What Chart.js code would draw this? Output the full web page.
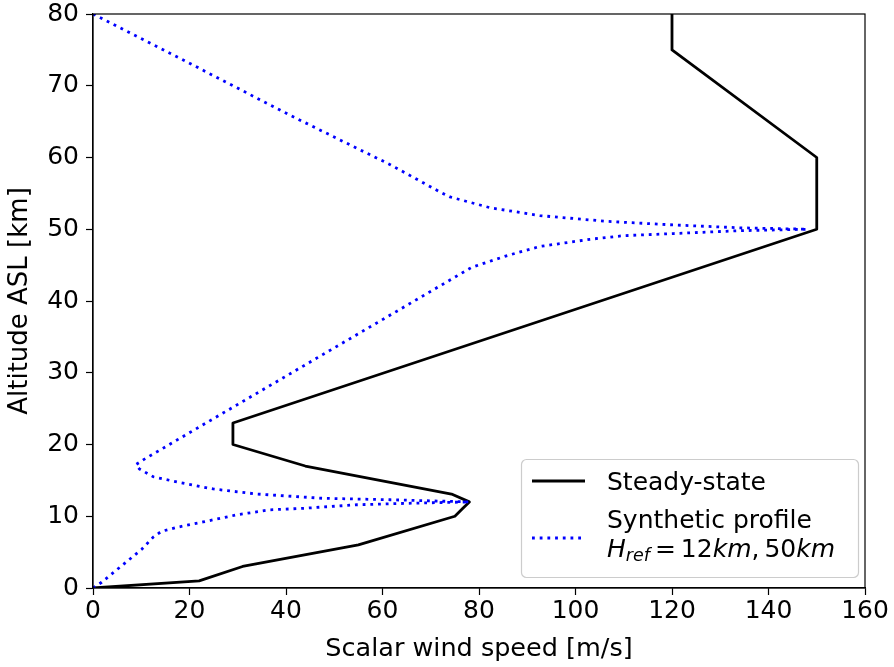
<!DOCTYPE html>
<html>
<head>
<meta charset="utf-8">
<script src="https://cdn.jsdelivr.net/npm/chart.js@4.4.1/dist/chart.umd.min.js"></script>
<style>
  html, body { margin: 0; padding: 0; background: #fff; }
  #wrap { width: 894px; height: 667px; position: relative; }
</style>
</head>
<body>
<div id="wrap"><canvas id="c" width="894" height="667"></canvas></div>
<script>
// Steady-state wind profile: speed [m/s] against altitude [km]
const steadySpeed = [0, 22, 31, 55, 75, 76.5, 78, 74.3, 44, 29, 29, 150, 150, 120, 120];
const steadyAlt   = [0, 1, 3, 6, 10, 11, 12, 13.1, 17, 20, 23, 50, 60, 75, 80];

// Synthetic profile built around reference heights 12 km and 50 km
const synthSpeed = [0, 1.8, 10.1, 12.5, 14.2, 17.7, 22.8, 29.8, 36.7, 43.5, 54.7, 65, 78,
                    61.6, 47.7, 33.9, 24.9, 18.0, 12.5, 9.6, 8.9, 10.5,
                    78.5, 85.7, 92.6, 103, 109.9, 120.3, 134.1, 148,
                    134.1, 120.3, 106.5, 92.6, 82.3, 74, 71.9, 61.6, 40.8, 20.1, 0];
const synthAlt   = [0, 0.8, 5.4, 7.1, 7.9, 8.5, 9.2, 10.2, 10.9, 11.1, 11.6, 11.8, 12.0,
                    12.3, 12.5, 13.1, 13.8, 14.7, 15.5, 16.6, 17.2, 17.9,
                    44.7, 46.3, 47.6, 48.6, 49.1, 49.4, 49.8, 50.0,
                    50.2, 50.6, 51.1, 51.9, 53.0, 54.5, 55.2, 59.0, 65.9, 73.1, 80];

const xTicks = [0, 20, 40, 60, 80, 100, 120, 140, 160];
const yTicks = [0, 10, 20, 30, 40, 50, 60, 70, 80];

const toPoints = (xs, ys) => xs.map((v, i) => ({ x: v, y: ys[i] }));

const FONT = '"DejaVu Sans", "Liberation Sans", sans-serif';
const LW = 2.8;

// Full rectangular frame around the plotting area
const framePlugin = {
  id: 'frame',
  afterDraw(chart) {
    const { ctx, chartArea: a } = chart;
    ctx.save();
    ctx.strokeStyle = '#000';
    ctx.lineWidth = 1.2;
    ctx.strokeRect(a.left, a.top, a.right - a.left, a.bottom - a.top);
    ctx.restore();
  }
};

// Legend box in the lower right corner, with a two-line math label
const legendPlugin = {
  id: 'profileLegend',
  afterDraw(chart) {
    const { ctx, chartArea: a } = chart;
    const right = a.right - 7, bottom = a.bottom - 11;
    const w = 337, h = 118;
    const left = right - w, top = bottom - h;
    ctx.save();
    ctx.beginPath();
    ctx.roundRect(left + 0.5, top + 0.5, w, h, 5);
    ctx.fillStyle = 'rgba(255,255,255,0.85)';
    ctx.fill();
    ctx.strokeStyle = '#cccccc';
    ctx.lineWidth = 1.2;
    ctx.stroke();

    const lx0 = left + 11, lx1 = left + 64, tx = left + 86;
    // steady-state handle
    ctx.beginPath();
    ctx.moveTo(lx0, top + 22); ctx.lineTo(lx1, top + 22);
    ctx.strokeStyle = '#000'; ctx.lineWidth = LW; ctx.setLineDash([]);
    ctx.stroke();
    // synthetic profile handle
    ctx.beginPath();
    ctx.moveTo(lx0, top + 79); ctx.lineTo(lx1, top + 79);
    ctx.strokeStyle = '#0000ff'; ctx.setLineDash([LW, 4.9]); ctx.lineCap = 'butt';
    ctx.stroke();
    ctx.setLineDash([]);

    ctx.fillStyle = '#000';
    ctx.textBaseline = 'alphabetic';
    ctx.textAlign = 'left';
    ctx.font = '25px ' + FONT;
    ctx.fillText('Steady-state', tx, top + 31);
    ctx.fillText('Synthetic profile', tx, top + 69);

    // H_ref = 12km, 50km
    const base = top + 98;
    const it = 'italic 25px ' + FONT, up = '25px ' + FONT, sub = 'italic 17.5px ' + FONT;
    let x = tx;
    const put = (s, f, dy, gapAfter) => {
      ctx.font = f; ctx.fillText(s, x, base + dy);
      x += ctx.measureText(s).width + (gapAfter || 0);
    };
    put('H', it, 0, 0);
    put('ref', sub, 4, 5);
    put('=', up, 0, 5);
    put('12', up, 0, 0);
    put('km', it, 0, 0);
    put(',', up, 0, 5);
    put('50', up, 0, 0);
    put('km', it, 0, 0);
    ctx.restore();
  }
};

new Chart(document.getElementById('c'), {
  type: 'scatter',
  data: {
    datasets: [
      {
        label: 'Steady-state',
        data: toPoints(steadySpeed, steadyAlt),
        showLine: true,
        borderColor: '#000000',
        borderWidth: LW,
        pointRadius: 0,
        tension: 0,
        borderJoinStyle: 'round',
        borderCapStyle: 'butt',
        order: 2
      },
      {
        label: 'Synthetic profile',
        data: toPoints(synthSpeed, synthAlt),
        showLine: true,
        borderColor: '#0000ff',
        borderWidth: LW,
        borderDash: [LW, 4.9],
        pointRadius: 0,
        tension: 0,
        borderCapStyle: 'butt',
        order: 1
      }
    ]
  },
  options: {
    responsive: false,
    animation: false,
    devicePixelRatio: 1,
    layout: { padding: { top: 14, right: 29, left: 0, bottom: 0 } },
    plugins: {
      legend: { display: false },
      tooltip: { enabled: false }
    },
    scales: {
      x: {
        type: 'linear',
        min: 0, max: 160,
        afterBuildTicks: s => { s.ticks = xTicks.map(v => ({ value: v })); },
        afterFit: s => { s.height = 79; },
        grid: { drawOnChartArea: false, tickLength: 7, tickColor: '#000', tickWidth: 1.2 },
        border: { display: true, color: '#000', width: 1.2 },
        ticks: {
          autoSkip: false, maxRotation: 0, padding: 4, color: '#000',
          font: { family: FONT, size: 25, lineHeight: 1 }
        },
        title: {
          display: true, text: 'Scalar wind speed [m/s]', color: '#000',
          font: { family: FONT, size: 25.5, lineHeight: 1.2 },
          padding: { top: 0, bottom: 2 }
        }
      },
      y: {
        type: 'linear',
        min: 0, max: 80,
        afterBuildTicks: s => { s.ticks = yTicks.map(v => ({ value: v })); },
        afterFit: s => { s.width = 93; },
        grid: { drawOnChartArea: false, tickLength: 7, tickColor: '#000', tickWidth: 1.2 },
        border: { display: true, color: '#000', width: 1.2 },
        ticks: {
          autoSkip: false, padding: 7, color: '#000',
          font: { family: FONT, size: 25, lineHeight: 0.4 }
        },
        title: {
          display: true, text: 'Altitude ASL [km]', color: '#000',
          font: { family: FONT, size: 26, lineHeight: 1.2 },
          padding: { top: 5, bottom: 0 }
        }
      }
    }
  },
  plugins: [framePlugin, legendPlugin]
});
</script>
</body>
</html>
